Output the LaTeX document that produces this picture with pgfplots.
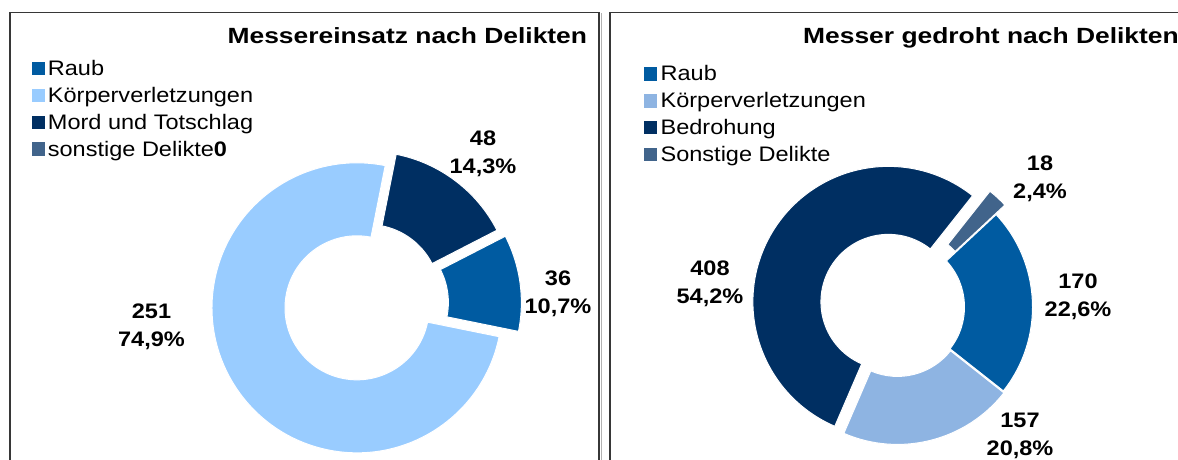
\documentclass[border=0pt]{standalone}
\usepackage{fontspec}
\setmainfont{Liberation Sans}
\newfontfamily\titlefont{Liberation Sans}[FakeStretch=1.2]
\newfontfamily\legfont{Liberation Sans}[FakeStretch=1.12]
\usepackage{pgfplots}
\usepackage{pgfplotstable}
\pgfplotsset{compat=1.18}

\definecolor{craub}{RGB}{0,91,161}
\definecolor{ckvl}{RGB}{153,204,255}
\definecolor{ckvr}{RGB}{142,180,226}
\definecolor{cmord}{RGB}{0,47,98}
\definecolor{csonst}{RGB}{65,100,139}
\definecolor{cframe}{RGB}{55,55,55}

% value, explode (px), colour, label x, label baseline y, percentage text
\pgfplotstableread{
value explode color lx ly pct
36  14.5 craub  558   174   10,7
251 6    ckvl   151.5 141.7 74,9
48  10   cmord  483   314.7 14,3
0   0    csonst 0     0     0,0
}\tabLeft

\pgfplotstableread{
value explode color lx ly pct
170 0  craub  1078 171.7 22,6
157 2  ckvr   1020 32.7  20,8
408 10 cmord  710  184   54,2
18  13 csonst 1040 289.3 2,4
}\tabRight

\newcommand\buildpie[7]{% #1 table, #2 cx, #3 cy, #4 R, #5 r, #6 start angle, #7 result
  \xdef\pietotal{0}%
  \pgfplotstablegetrowsof{#1}%
  \pgfmathtruncatemacro\pielast{\pgfplotsretval-1}%
  \foreach \i in {0,...,\pielast}{%
    \pgfplotstablegetelem{\i}{value}\of{#1}%
    \pgfmathsetmacro\tmp{\pietotal+\pgfplotsretval}%
    \xdef\pietotal{\tmp}%
  }%
  \xdef\pieangle{#6}%
  \gdef\piecmds{}%
  \foreach \i in {0,...,\pielast}{%
    \pgfplotstablegetelem{\i}{value}\of{#1}\let\pv\pgfplotsretval
    \pgfplotstablegetelem{\i}{explode}\of{#1}\let\pex\pgfplotsretval
    \pgfplotstablegetelem{\i}{color}\of{#1}\let\pcol\pgfplotsretval
    \pgfplotstablegetelem{\i}{lx}\of{#1}\let\plx\pgfplotsretval
    \pgfplotstablegetelem{\i}{ly}\of{#1}\let\ply\pgfplotsretval
    \pgfplotstablegetelem{\i}{pct}\of{#1}\let\ppct\pgfplotsretval
    \pgfmathsetmacro\frac{\pv/\pietotal}%
    \pgfmathsetmacro\sweep{\frac*360}%
    \pgfmathsetmacro\aone{\pieangle}%
    \pgfmathsetmacro\atwo{\pieangle-\sweep}%
    \pgfmathsetmacro\amid{\pieangle-\sweep/2}%
    \pgfmathsetmacro\px{#2+\pex*cos(\amid)}%
    \pgfmathsetmacro\py{#3+\pex*sin(\amid)}%
    \pgfmathsetmacro\ix{\px+#5*cos(\atwo)}%
    \pgfmathsetmacro\iy{\py+#5*sin(\atwo)}%
    \pgfmathsetmacro\plyb{\ply-28}%
    \ifdim\pv pt>0pt
      \xdef\piecmds{\unexpanded\expandafter{\piecmds}%
        \noexpand\fill[\pcol,draw=white,line width=1pt]
          (axis cs:\px,\py) ++(\aone:#4pt)
          arc[start angle=\aone,end angle=\atwo,radius=#4pt]
          -- (axis cs:\ix,\iy)
          arc[start angle=\atwo,end angle=\aone,radius=#5pt] -- cycle;
        \noexpand\node[lab] at (axis cs:\plx,\ply) {\pv};
        \noexpand\node[lab] at (axis cs:\plx,\plyb) {\ppct\noexpand\%};
      }%
    \fi
    \xdef\pieangle{\atwo}%
  }%
  \global\let#7\piecmds
}

\pgfplotsset{
  donut/.style={
    at={(0pt,0pt)}, anchor=south west, x=1pt, y=1pt,
    xmin=0, xmax=1178, ymin=0, ymax=460, hide axis, clip=false,
    legend image code/.code={\fill[##1] (0pt,1pt) rectangle (12.4pt,13.4pt);},
    legend style={anchor=north west, draw=none, fill=none,
      inner sep=0pt, outer sep=0pt, row sep=5.8pt, column sep=3.4pt,
      font=\legfont\fontsize{21}{21}\selectfont,
      nodes={inner sep=0pt, text height=16pt, text depth=5pt},
      cells={anchor=base west}},
  }
}

\begin{document}
\buildpie{\tabLeft}{362}{155.5}{145}{72}{27.2}{\leftcmds}%
\buildpie{\tabRight}{897}{153}{135.5}{67.5}{43}{\rightcmds}%
\begin{tikzpicture}[
  lab/.style={font=\legfont\bfseries\fontsize{21}{21}\selectfont, inner sep=0pt, anchor=base},
  ttl/.style={font=\titlefont\bfseries\fontsize{22}{22}\selectfont, inner sep=0pt, anchor=base west}]
\useasboundingbox (0,0) rectangle (1178pt,460pt);
\clip (0,0) rectangle (1178pt,460pt);
\fill[white] (0,0) rectangle (1178pt,460pt);
\draw[cframe, line width=1.5pt] (9.8pt,-20pt) rectangle (599pt,447.3pt);
\draw[black!30, line width=0.8pt] (601pt,-20pt) -- (601pt,446.5pt);
\draw[cframe, line width=1.5pt] (610pt,-20pt) rectangle (1200pt,447.3pt);

\begin{axis}[donut, legend style={at={(0.02691,0.87022)}}]
\leftcmds
\addlegendimage{craub}\addlegendentry{Raub}
\addlegendimage{ckvl}\addlegendentry{Körperverletzungen}
\addlegendimage{cmord}\addlegendentry{Mord und Totschlag}
\addlegendimage{csonst}\addlegendentry{sonstige Delikte\textbf{0}}
\node[ttl] at (axis cs:227.4,416.7) {Messereinsatz nach Delikten};
\end{axis}

\begin{axis}[donut, legend style={at={(0.54669,0.858696)}, column sep=3.8pt}]
\rightcmds
\addlegendimage{craub}\addlegendentry{Raub}
\addlegendimage{ckvr}\addlegendentry{Körperverletzungen}
\addlegendimage{cmord}\addlegendentry{Bedrohung}
\addlegendimage{csonst}\addlegendentry{Sonstige Delikte}
\node[ttl] at (axis cs:803,416.7) {Messer gedroht nach Delikten};
\end{axis}
\end{tikzpicture}
\end{document}
